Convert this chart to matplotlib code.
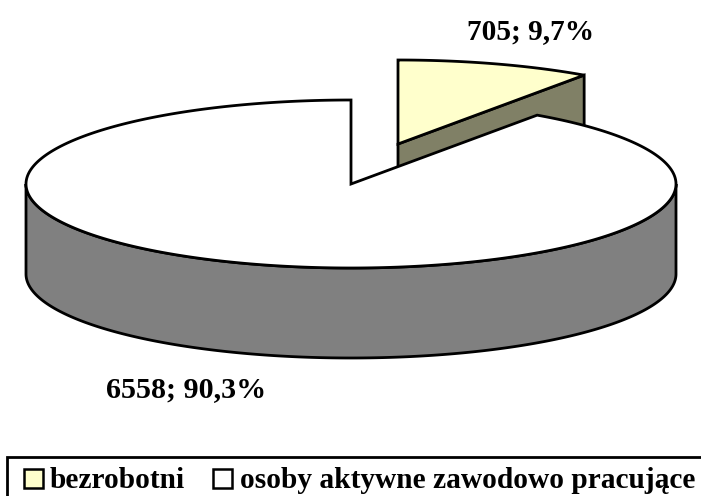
"""
3D style exploded pie chart, drawn with matplotlib patches
"""
import numpy as np
import matplotlib
matplotlib.use("Agg")
import matplotlib.pyplot as plt
from matplotlib.patches import Polygon, Rectangle

categories = ["bezrobotni", "osoby aktywne zawodowo pracujące"]
values = [705, 6558]
labels = ["705; 9,7%", "6558; 90,3%"]
colors = ["#FFFFCC", "#FFFFFF"]
wall_colors = ["#808066", "#808080"]

plt.rcParams["font.family"] = ["Liberation Serif", "DejaVu Serif"]
plt.rcParams["font.weight"] = "bold"

# ellipse geometry in pixels
cx, cy = 351, 184
rx, ry = 325, 84
depth = 90
explode = (47, -40)
lw = 2.0


def arc(t1, t2, dx=0, dy=0, drop=0):
    """Points on the ellipse, angles in degrees clockwise from 12 o'clock."""
    t = np.radians(np.linspace(t1, t2, 300))
    return np.column_stack([cx + dx + rx * np.sin(t), cy + dy + drop - ry * np.cos(t)])


fig = plt.figure(figsize=(7.01, 4.96), dpi=100)
ax = fig.add_axes([0, 0, 1, 1])
ax.set_xlim(0, 701)
ax.set_ylim(496, 0)
ax.axis("off")

split = 360 * values[0] / sum(values)
dx, dy = explode

# exploded slice: wall of the radial edge first, the big slice hides the rest
end = arc(split, split, dx, dy)[0]
apex = (cx + dx, cy + dy)
ax.add_patch(Polygon([apex, end, (end[0], end[1] + depth), (apex[0], apex[1] + depth)],
                     fc=wall_colors[0], ec="black", lw=lw, joinstyle="miter"))
top = np.vstack([[apex], arc(0, split, dx, dy)])
ax.add_patch(Polygon(top, closed=True, fc=colors[0], ec="black", lw=lw, joinstyle="miter"))

# big slice: front wall and top
front = np.vstack([arc(90, 270), arc(270, 90, drop=depth)])
ax.add_patch(Polygon(front, closed=True, fc=wall_colors[1], ec="black", lw=lw))
top = np.vstack([[(cx, cy)], arc(split, 360)])
ax.add_patch(Polygon(top, closed=True, fc=colors[1], ec="black", lw=lw, joinstyle="miter"))

# data labels
ax.text(531, 39, labels[0], fontsize=21.2, ha="center", va="baseline")
ax.text(186, 397, labels[1], fontsize=21.6, ha="center", va="baseline")

# legend, its right and lower edges run off the picture
ax.add_patch(Rectangle((7, 457), 720, 60, fc="white", ec="black", lw=lw))
for x, x_text, name, col in zip([24, 213], [50, 240], categories, colors):
    ax.add_patch(Rectangle((x, 468.5), 19, 19, fc=col, ec="black", lw=1.8))
    ax.text(x_text, 488, name, fontsize=21.2, ha="left", va="baseline")

fig.savefig("out.png", dpi=100)
